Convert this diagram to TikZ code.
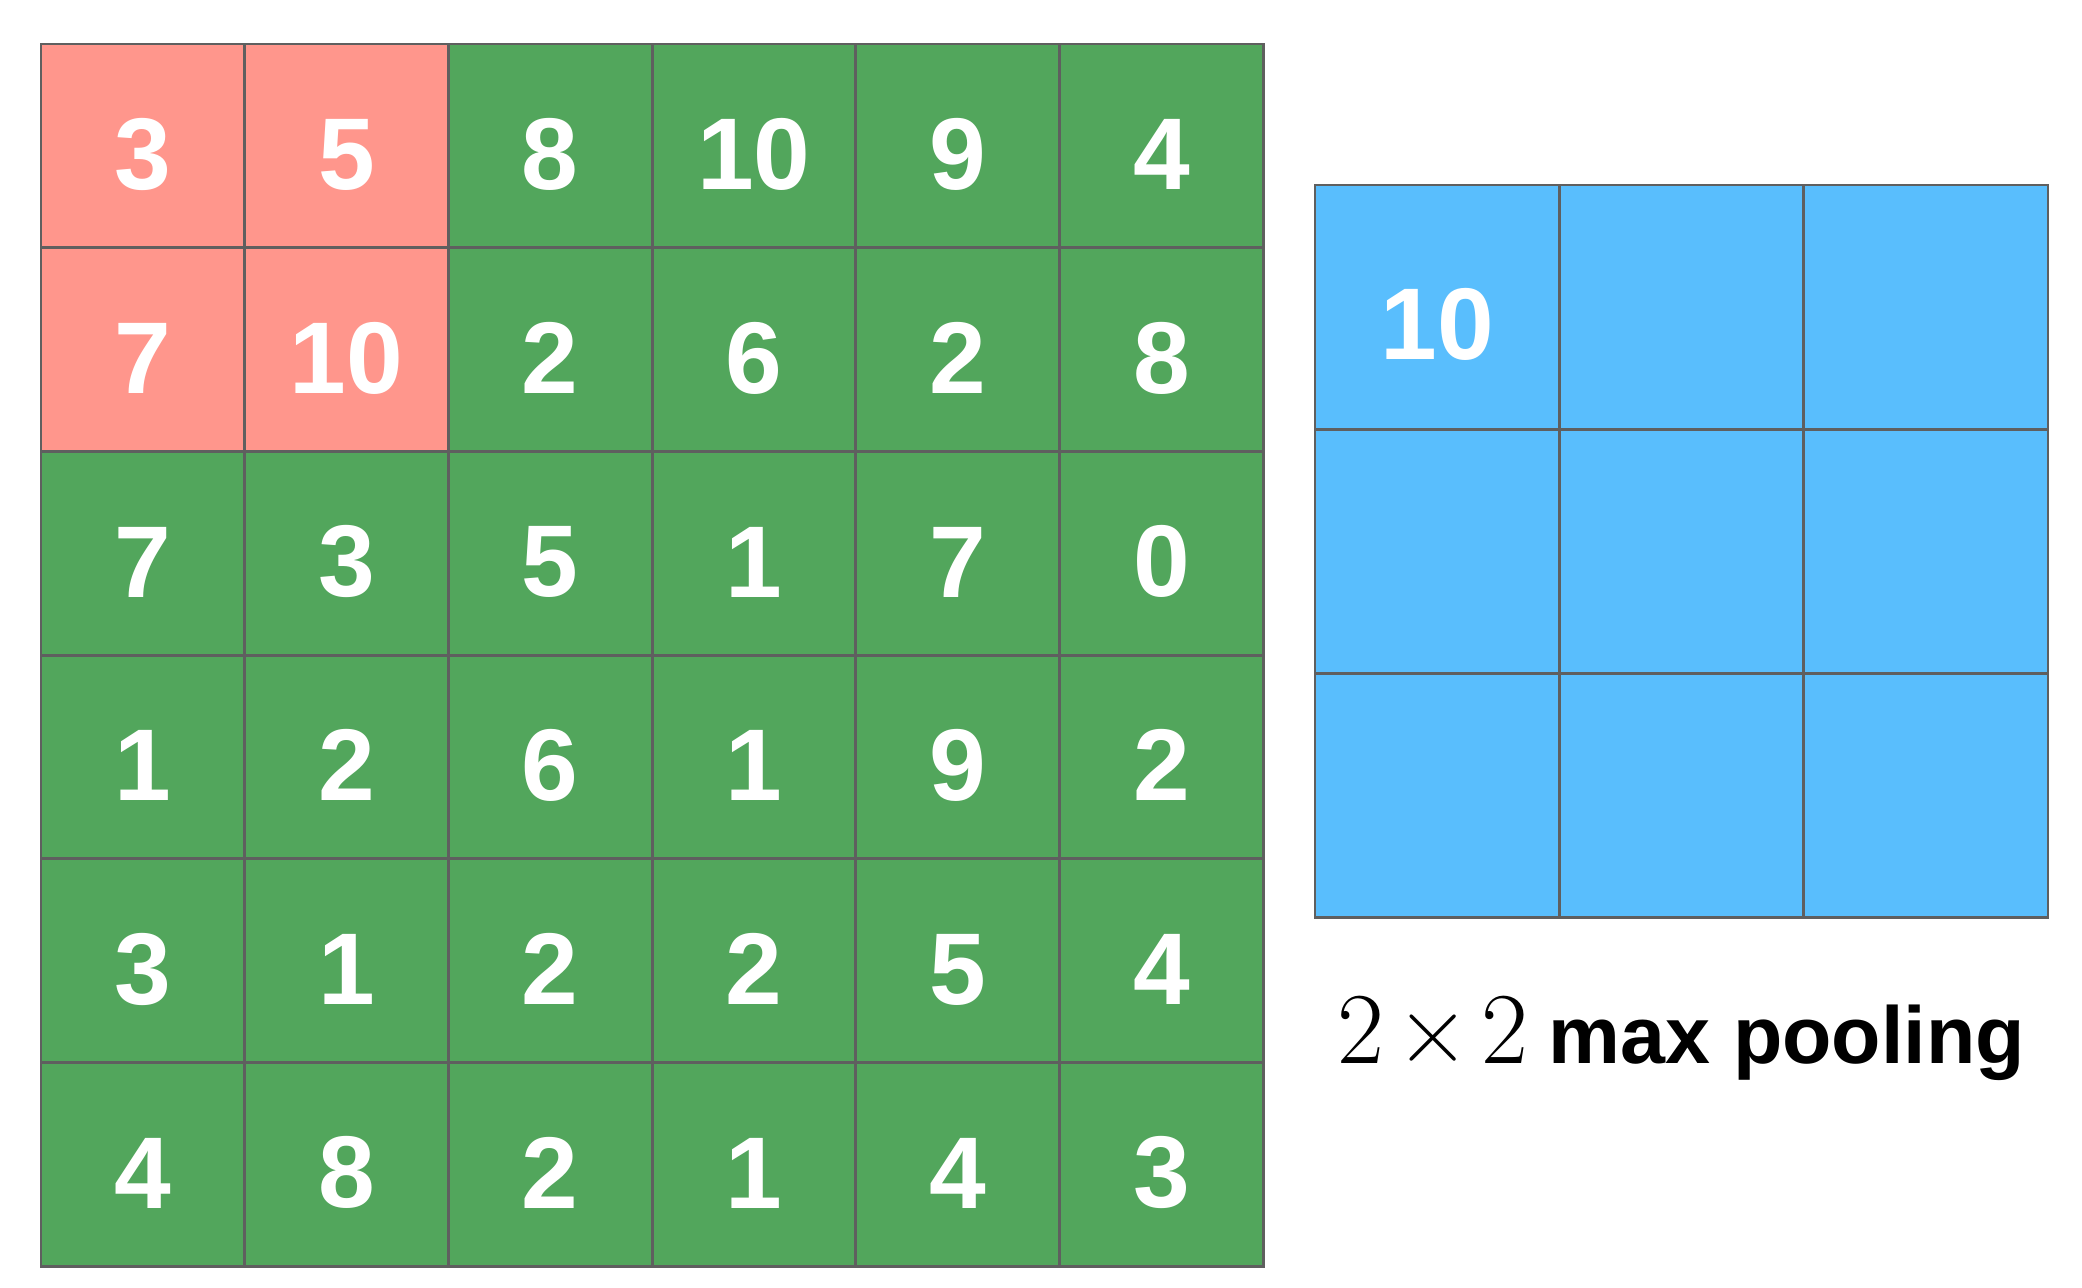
\documentclass[tikz,border=0pt]{standalone}
\usepackage[no-math]{fontspec}
\usepackage{tikz}
\newfontfamily\cellfont{Liberation Sans}
\definecolor{poolred}{RGB}{255,150,140}
\definecolor{poolgreen}{RGB}{82,166,92}
\definecolor{poolblue}{RGB}{89,190,253}
\definecolor{gridgray}{RGB}{95,95,95}
\tikzset{
  incell/.style={draw=gridgray,line width=0.8pt,fill=poolgreen,minimum size=2.037cm,inner sep=0pt,
    text=white,font=\cellfont\bfseries\fontsize{29}{30}\selectfont,text height=0.88cm},
  hotcell/.style={incell,fill=poolred},
  outcell/.style={incell,fill=poolblue,minimum size=2.443cm,text height=1.05cm}
}
\begin{document}
\begin{tikzpicture}
  \useasboundingbox (0,0) rectangle (20.82,12.87);
  % input feature map
  \foreach \row/\vals in {1/{3,5,8,10,9,4},2/{7,10,2,6,2,8},3/{7,3,5,1,7,0},
                          4/{1,2,6,1,9,2},5/{3,1,2,2,5,4},6/{4,8,2,1,4,3}}{
    \foreach \v [count=\col] in \vals{
      \node[incell] (in-\row-\col) at ({0.41+(\col-0.5)*2.037},{12.43-(\row-0.5)*2.037}) {\v};
    }
  }
  % pooling window
  \node[hotcell] (in-1-1) at ({0.41+0.5*2.037},{12.43-0.5*2.037}) {3};
  \node[hotcell] (in-1-2) at ({0.41+1.5*2.037},{12.43-0.5*2.037}) {5};
  \node[hotcell] (in-2-1) at ({0.41+0.5*2.037},{12.43-1.5*2.037}) {7};
  \node[hotcell] (in-2-2) at ({0.41+1.5*2.037},{12.43-1.5*2.037}) {10};

  % output map
  \foreach \row in {1,2,3}{
    \foreach \col in {1,2,3}{
      \node[outcell] (out-\row-\col) at ({13.15+(\col-0.5)*2.443},{11.02-(\row-0.5)*2.443}) {};
    }
  }
  \node[outcell] (out-1-1) at ({13.15+0.5*2.443},{11.02-0.5*2.443}) {10};

  \node[anchor=base,inner sep=0pt] (caption) at (16.81,2.24)
    {\fontsize{29}{30}\selectfont 2\hspace{0.12em}×\hspace{0.12em}2\hspace{0.2em}{\cellfont\bfseries\fontsize{23}{26}\selectfont max pooling}};
\end{tikzpicture}
\end{document}
